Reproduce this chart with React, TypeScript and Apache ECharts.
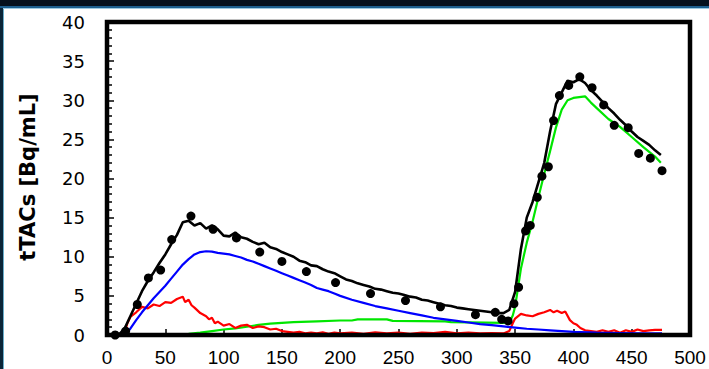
import React, { useEffect, useRef } from "react";
import * as echarts from "echarts";

const xTicks = [0, 50, 100, 150, 200, 250, 300, 350, 400, 450, 500];
const yTicks = [0, 5, 10, 15, 20, 25, 30, 35, 40];

const totalFit: [number, number][] = [
  [0, 0], [5, 0], [10, 0], [15, 0.8], [20, 2.4], [25, 4.0], [30, 5.6], [35, 6.9], [40, 8.0], [45, 9.2],
  [50, 10.3], [55, 11.6], [60, 12.8], [65, 14.4], [70, 14.6], [75, 14.0], [80, 14.3], [85, 13.6], [90, 14.0], [95, 13.5],
  [100, 12.7], [105, 12.6], [110, 13.1], [115, 12.5], [120, 12.3], [125, 11.9], [130, 11.6], [135, 11.8], [140, 11.2], [145, 11.0],
  [150, 10.6], [155, 10.3], [160, 10.0], [165, 9.5], [170, 9.3], [175, 8.9], [180, 8.8], [185, 8.4], [190, 8.1], [195, 7.9],
  [200, 7.5], [205, 7.1], [210, 6.9], [215, 6.6], [220, 6.4], [225, 6.2], [230, 5.9], [235, 5.8], [240, 5.6], [245, 5.4],
  [250, 5.3], [255, 5.1], [260, 4.9], [265, 4.8], [270, 4.5], [275, 4.4], [280, 4.2], [285, 4.0], [290, 3.8], [295, 3.7],
  [300, 3.5], [305, 3.4], [310, 3.3], [315, 3.2], [320, 3.1], [325, 3.0], [330, 2.9], [335, 2.8], [340, 2.8], [345, 3.2],
  [350, 5.5], [355, 11.0], [360, 15.0], [365, 17.0], [370, 19.5], [375, 22.0], [380, 26.0], [385, 29.5], [390, 31.0], [395, 32.5],
  [400, 32.3], [405, 32.7], [410, 32.2], [415, 31.3], [420, 30.6], [425, 29.8], [430, 29.0], [435, 28.3], [440, 27.5], [445, 26.8],
  [450, 26.0], [455, 25.3], [460, 24.8], [465, 24.3], [470, 23.6], [475, 23.0],
];

const blueComp: [number, number][] = [
  [0, 0], [5, 0], [10, 0], [15, 0], [20, 0.8], [25, 1.9], [30, 2.9], [35, 3.8], [40, 4.7], [45, 5.5],
  [50, 6.3], [55, 7.2], [60, 8.1], [65, 9.0], [70, 9.7], [75, 10.3], [80, 10.6], [85, 10.7], [90, 10.65], [95, 10.5],
  [100, 10.4], [105, 10.3], [110, 10.1], [115, 9.9], [120, 9.6], [125, 9.4], [130, 9.1], [135, 8.8], [140, 8.5], [145, 8.2],
  [150, 7.9], [155, 7.6], [160, 7.3], [165, 7.0], [170, 6.7], [175, 6.4], [180, 6.0], [185, 5.8], [190, 5.6], [195, 5.3],
  [200, 5.0], [210, 4.5], [220, 4.1], [230, 3.7], [240, 3.4], [250, 3.1], [260, 2.8], [270, 2.5], [280, 2.2], [290, 2.0],
  [300, 1.8], [310, 1.6], [320, 1.4], [330, 1.25], [340, 1.1], [350, 0.95], [360, 0.8], [370, 0.7], [380, 0.6], [390, 0.5],
  [400, 0.4], [420, 0.3], [440, 0.25], [460, 0.2], [476, 0.2],
];

const redComp: [number, number][] = [
  [0, 0], [5, 0], [10, 0], [15, 0.2], [17.5, 1.5], [20, 2.3], [25, 2.9], [30, 3.6], [35, 3.4], [40, 3.9],
  [45, 3.7], [50, 4.2], [55, 4.1], [60, 4.6], [65, 4.9], [67, 4.2], [70, 4.5], [72.5, 3.8], [75, 3.5], [80, 2.8],
  [85, 2.4], [87.5, 2.0], [90, 2.2], [92.5, 1.5], [95, 1.7], [100, 1.2], [105, 1.4], [110, 0.9], [115, 1.2], [120, 1.3],
  [125, 0.9], [130, 1.1], [135, 1.0], [140, 0.7], [145, 0.8], [150, 0.5], [155, 0.4], [160, 0.3], [165, 0.4], [170, 0.2],
  [175, 0.3], [180, 0.2], [185, 0.35], [190, 0.15], [195, 0.3], [200, 0.2], [210, 0.3], [220, 0.15], [230, 0.35], [240, 0.2],
  [250, 0.3], [260, 0.15], [270, 0.3], [280, 0.25], [290, 0.4], [300, 0.2], [310, 0.3], [320, 0.2], [330, 0.25], [340, 0.2],
  [345, 0.5], [348, 1.5], [350, 2.1], [355, 2.7], [360, 2.5], [365, 2.4], [370, 2.7], [375, 2.9], [380, 3.2], [383, 2.9],
  [386, 3.1], [390, 2.8], [393, 3.0], [397, 1.9], [400, 1.5], [403, 1.3], [406, 0.9], [410, 0.6], [415, 0.5], [420, 0.4],
  [425, 0.6], [430, 0.4], [435, 0.6], [440, 0.3], [445, 0.6], [450, 0.4], [455, 0.7], [460, 0.5], [465, 0.6], [470, 0.65],
  [476, 0.65],
];

const greenComp: [number, number][] = [
  [0, 0], [50, 0], [60, 0.05], [70, 0.15], [80, 0.3], [90, 0.5], [100, 0.7], [110, 0.85], [120, 1.05], [130, 1.3],
  [140, 1.45], [150, 1.55], [160, 1.65], [180, 1.75], [200, 1.85], [210, 1.85], [215, 2.0], [240, 2.0], [245, 1.8], [290, 1.75],
  [295, 1.65], [340, 1.55], [345, 1.6], [348, 2.5], [350, 3.6], [355, 8.5], [360, 11.8], [365, 14.5], [370, 17.6], [375, 20.6],
  [380, 23.5], [385, 26.5], [390, 28.8], [395, 30.0], [400, 30.3], [405, 30.4], [410, 30.5], [415, 29.7], [420, 29.0], [430, 27.6],
  [440, 26.6], [450, 25.3], [460, 24.0], [470, 22.8], [475, 22.0],
];

const measured: [number, number][] = [
  [7, 0], [16, 0.5], [26, 3.9], [35.5, 7.3], [46, 8.3], [55.5, 12.2], [72, 15.2], [91, 13.5], [111, 12.4], [131, 10.6],
  [150, 9.4], [171, 8.1], [196, 6.7], [226, 5.3], [256, 4.4], [286, 3.6], [316, 2.6], [333, 2.9], [338.5, 2.0], [344, 1.8],
  [349, 4.0], [353, 6.1], [359, 13.3], [363, 14.0], [369, 17.6], [373, 20.3], [378.5, 21.5], [383, 27.4], [388, 30.6], [396, 31.9],
  [405.5, 33.0], [416, 31.6], [426, 29.4], [435, 26.8], [447, 26.5], [456, 23.2], [466, 22.6], [476, 21.0],
];

const yTitle = "tTACs [Bq/mL]";

const G_LEFT = 107;
const G_TOP = 22;
const G_RIGHT = 19;
const G_BOTTOM = 34;

export default function App() {
  const ref = useRef<HTMLDivElement>(null);
  useEffect(() => {
    if (!ref.current) return;
    const chart = echarts.init(ref.current, null, { renderer: "svg" });
    const line = (name: string, data: [number, number][], color: string, z: number, w: number) => ({
      name,
      type: "line",
      data,
      showSymbol: false,
      symbol: "none",
      lineStyle: { color, width: w },
      z,
    });
    const W = 709;
    const H = 369;
    chart.setOption({
      animation: false,
      backgroundColor: "#ffffff",
      grid: {
        left: G_LEFT,
        right: G_RIGHT,
        top: G_TOP,
        bottom: G_BOTTOM,
        show: false,
      },
      xAxis: {
        type: "value",
        min: 0,
        max: 500,
        interval: 50,
        axisLine: { show: false },
        axisTick: { show: true, inside: true, length: 6, lineStyle: { color: "#000", width: 1.5 } },
        splitLine: { show: false },
        axisLabel: {
          margin: 13,
          color: "#000",
          fontSize: 19,
          fontFamily: "Liberation Sans, Arial, sans-serif",
          formatter: (v: number) => (xTicks.includes(v) ? String(v) : ""),
        },
      },
      yAxis: {
        type: "value",
        min: 0,
        max: 40,
        interval: 5,
        axisLine: { show: false },
        axisTick: { show: true, inside: true, length: 7, lineStyle: { color: "#000", width: 1.5 } },
        minorTick: { show: true, splitNumber: 5, length: 5, lineStyle: { color: "#000", width: 1.5 } },
        splitLine: { show: false },
        axisLabel: {
          margin: 22,
          color: "#000",
          fontSize: 18,
          fontFamily: "DejaVu Sans, sans-serif",
          formatter: (v: number) => (yTicks.includes(v) ? String(v) : ""),
        },
      },
      graphic: [
        {
          type: "rect",
          shape: { x: G_LEFT, y: G_TOP, width: W - G_LEFT - G_RIGHT, height: H - G_TOP - G_BOTTOM },
          style: { fill: "none", stroke: "#000", lineWidth: 4.5 },
          z: 50,
        },
        { type: "rect", shape: { x: 0, y: 0, width: 709, height: 6 }, style: { fill: "#06111d" }, z: 100 },
        { type: "rect", shape: { x: 0, y: 6, width: 709, height: 2 }, style: { fill: "#1d5f8e" }, z: 100 },
        { type: "rect", shape: { x: 0, y: 8, width: 709, height: 1 }, style: { fill: "#9ccbe2" }, z: 100 },
        { type: "rect", shape: { x: 0, y: 8, width: 3, height: 361 }, style: { fill: "#0b2538" }, z: 100 },
        { type: "rect", shape: { x: 3, y: 9, width: 1, height: 360 }, style: { fill: "#6aaecb" }, z: 100 },
        {
          type: "text",
          x: 28,
          y: 177,
          rotation: Math.PI / 2,
          style: {
            text: yTitle,
            fill: "#000",
            font: "bold 21px 'DejaVu Sans', sans-serif",
            textAlign: "center",
            textVerticalAlign: "middle",
          },
        },
      ],
      series: [
        line("Green", greenComp, "#00e600", 3, 2.2),
        line("Red", redComp, "#ff0000", 4, 2.2),
        line("Blue", blueComp, "#0000ff", 5, 2.2),
        line("Total", totalFit, "#000000", 6, 2.6),
        {
          name: "Measured",
          type: "scatter",
          data: measured,
          symbol: "circle",
          symbolSize: 9,
          itemStyle: { color: "#000", opacity: 1 },
          z: 7,
        },
      ],
    });
    return () => chart.dispose();
  }, []);
  return (
    <div
      ref={ref}
      style={{ position: "fixed", left: 0, top: 0, width: 709, height: 369 }}
    />
  );
}
